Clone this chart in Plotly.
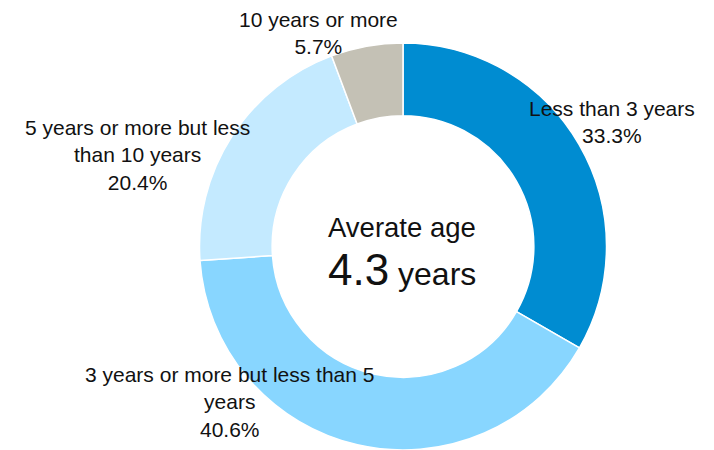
import plotly.graph_objects as go

categories = ["Less than 3 years", "3 years or more but less than 5 years",
              "5 years or more but less than 10 years", "10 years or more"]
label_lines = ["Less than 3 years", "3 years or more but less than 5<br>years",
               "5 years or more but less<br>than 10 years", "10 years or more"]
values = [33.3, 40.6, 20.4, 5.7]
colors = ["#008CD1", "#88D6FF", "#C4EAFF", "#C4C1B5"]
center_title = "Averate age"
average_age = 4.3
average_unit = "years"

W, H = 714, 450
# label centers in pixels
label_pos = [(612, 122), (229, 402), (137, 155), (318, 33)]

fig = go.Figure()
fig.add_trace(go.Pie(
    labels=categories, values=values, sort=False, direction="clockwise", rotation=0,
    hole=0.643, textinfo="none", hoverinfo="label+percent",
    marker=dict(colors=colors, line=dict(color="white", width=1.5)),
    domain=dict(x=[198.5 / W, 607.5 / W], y=[0, 1 - 43 / H]),
    showlegend=False,
))

font = "Liberation Sans, Arial, sans-serif"
for txt, v, (px, py) in zip(label_lines, values, label_pos):
    fig.add_annotation(text=f"{txt}<br>{v}%", x=px / W, y=1 - py / H, xref="paper", yref="paper",
                       showarrow=False, xanchor="center", yanchor="middle", align="center",
                       font=dict(family=font, size=21, color="#111111"))

fig.add_annotation(text=center_title, x=402 / W, y=1 - 227 / H, xref="paper", yref="paper",
                   showarrow=False, xanchor="center", yanchor="middle",
                   font=dict(family=font, size=27.5, color="#111111"))
fig.add_annotation(text=f"<span style='font-size:44px'>{average_age}</span> {average_unit}",
                   x=402 / W, y=1 - 269 / H, xref="paper", yref="paper",
                   showarrow=False, xanchor="center", yanchor="middle",
                   font=dict(family=font, size=32, color="#111111"))

fig.update_layout(width=W, height=H, margin=dict(l=0, r=0, t=0, b=0),
                  paper_bgcolor="white", plot_bgcolor="white")
fig.write_html("out.html")
